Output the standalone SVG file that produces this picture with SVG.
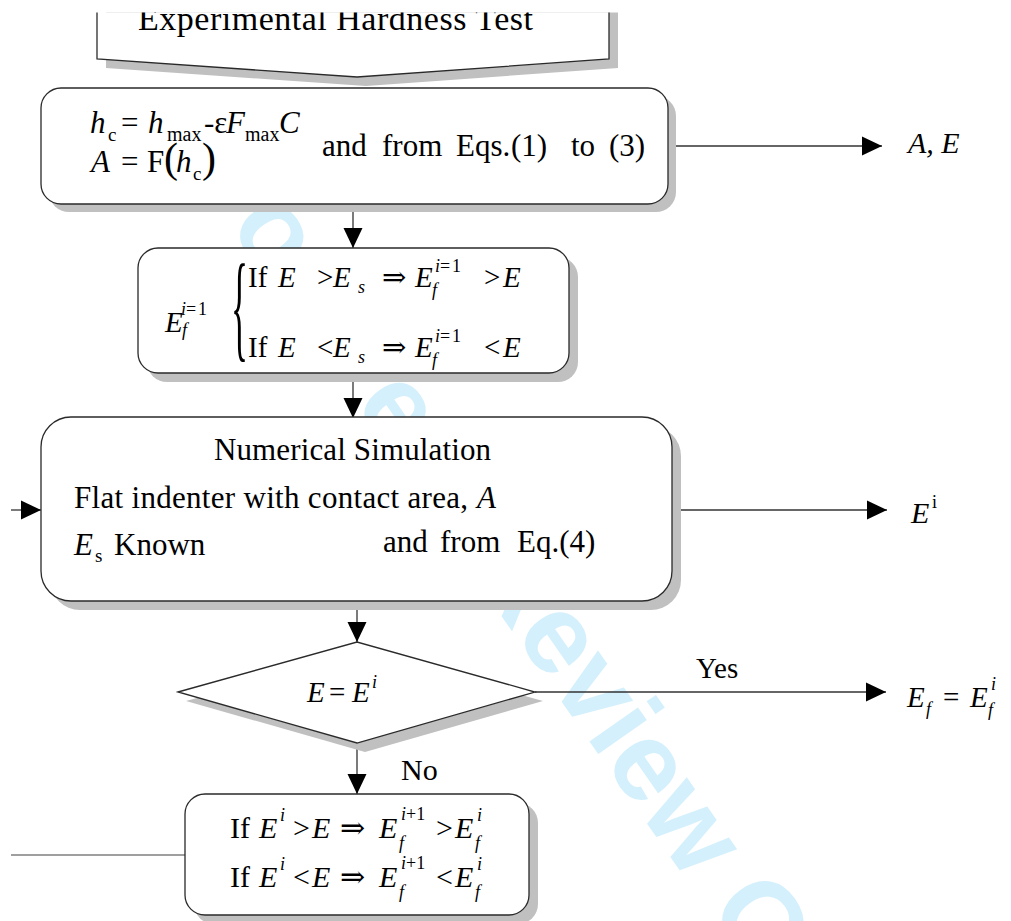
<svg xmlns="http://www.w3.org/2000/svg" width="1011" height="921" viewBox="0 0 1011 921">
<defs>
<style>
.t{font-family:'Liberation Serif','DejaVu Serif',serif;fill:#000;font-size:30px}
.i{font-style:italic}
.s{font-size:18px}
.b{font-size:30px}
.bs{font-size:18px}
.node{fill:#fff;stroke:#2a2a2a;stroke-width:1.3}
.sh{fill:#c0c0c0;stroke:none}
.conn{stroke:#333;stroke-width:1.3;fill:none}
.gray{stroke:#7f7f7f;stroke-width:1.6;fill:none}
.wm{font-family:'Liberation Sans',Arial,sans-serif;font-weight:bold;font-size:112px;fill:#d4f0fc}
</style>
<marker id="ah" viewBox="0 0 20 20" refX="20" refY="10" markerWidth="20" markerHeight="20" markerUnits="userSpaceOnUse" orient="auto">
<path d="M0,0.5 L20,10 L0,19.5 Z" fill="#000"/>
</marker>
<clipPath id="clipTop"><rect x="0" y="12.5" width="1011" height="909"/></clipPath>
</defs>
<rect x="0" y="0" width="1011" height="921" fill="#fff"/>

<g id="watermark">
<text class="wm" transform="translate(12,0) rotate(4,450,560) translate(150,189) rotate(51)">For Peer Review Only</text>
</g>

<g id="connectors">
<line class="conn" x1="676" y1="146" x2="882" y2="146" marker-end="url(#ah)"/>
<line class="conn" x1="353" y1="212" x2="353" y2="248" marker-end="url(#ah)"/>
<line class="conn" x1="353" y1="382" x2="353" y2="418" marker-end="url(#ah)"/>
<line class="conn" x1="11" y1="510" x2="41" y2="510" marker-end="url(#ah)"/>
<line class="conn" x1="681" y1="510" x2="887" y2="510" marker-end="url(#ah)"/>
<line class="conn" x1="357" y1="609" x2="357" y2="642" marker-end="url(#ah)"/>
<line class="conn" x1="535" y1="692" x2="886" y2="692" marker-end="url(#ah)"/>
<line class="conn" x1="357" y1="743" x2="357" y2="794" marker-end="url(#ah)"/>
<line class="gray" x1="11" y1="855" x2="185" y2="855"/>
<text class="t" x="696" y="678" style="font-size:29px">Yes</text>
<text class="t" x="401" y="780">No</text>
</g>

<g id="node1" clip-path="url(#clipTop)">
<path class="sh" d="M106,-10 L106,68 L366,86 L618,68 L618,-10 Z"/>
<path class="node" d="M97,-10 L97,59 L357,77 L609,59 L609,-10 Z"/>
<text class="t" x="138" y="30" style="font-size:34px" textLength="395">Experimental Hardness Test</text>
</g>

<g id="node2">
<rect class="sh" x="49" y="96" width="627" height="116" rx="20"/>
<rect class="node" x="41" y="88" width="627" height="116" rx="20"/>
<g class="t" style="font-size:31px">
<text y="133"><tspan class="i" x="90">h</tspan><tspan x="108" y="141" style="font-size:19px">c</tspan><tspan x="121" y="133">=</tspan><tspan class="i" x="148">h</tspan><tspan x="167" y="141" style="font-size:20px">max</tspan><tspan x="204" y="133">-ε</tspan><tspan class="i" x="226">F</tspan><tspan x="245" y="141" style="font-size:20px">max</tspan><tspan class="i" x="279" y="133">C</tspan></text>
<text y="172"><tspan class="i" x="91">A</tspan><tspan x="121">=</tspan><tspan x="147">F</tspan><tspan x="164" style="font-size:42px">(</tspan><tspan class="i" x="176">h</tspan><tspan x="193" y="180" style="font-size:19px">c</tspan><tspan x="202" y="172" style="font-size:42px">)</tspan></text>
<text y="156"><tspan x="322">and</tspan><tspan x="382">from</tspan><tspan x="456">Eqs.</tspan><tspan x="511">(1)</tspan><tspan x="571">to</tspan><tspan x="609">(3)</tspan></text>
</g>
</g>

<g id="out1">
<text class="t i" x="908" y="153">A, E</text>
</g>

<g id="node3">
<rect class="sh" x="147" y="257" width="431" height="125" rx="20"/>
<rect class="node" x="138" y="248" width="431" height="125" rx="20"/>
<g class="t" style="font-size:29px">
<text y="332"><tspan class="i" x="165">E</tspan><tspan class="i s" x="181" y="315">i</tspan><tspan class="s" x="186">=</tspan><tspan class="s" x="198">1</tspan><tspan class="i s" x="182" y="336">f</tspan></text>
<text transform="translate(231,346) scale(0.3,1)" style="font-size:118px">{</text>
<text y="287"><tspan x="248">If</tspan><tspan class="i" x="278">E</tspan><tspan x="317">&gt;</tspan><tspan class="i" x="333">E</tspan><tspan class="i s" x="358" y="293">s</tspan><tspan x="382" y="287">⇒</tspan><tspan class="i" x="415">E</tspan><tspan class="i s" x="435" y="272">i</tspan><tspan class="s" x="440">=</tspan><tspan class="s" x="452">1</tspan><tspan class="i s" x="432" y="296">f</tspan><tspan x="484" y="287">&gt;</tspan><tspan class="i" x="503">E</tspan></text>
<text y="357"><tspan x="248">If</tspan><tspan class="i" x="278">E</tspan><tspan x="317">&lt;</tspan><tspan class="i" x="333">E</tspan><tspan class="i s" x="358" y="363">s</tspan><tspan x="382" y="357">⇒</tspan><tspan class="i" x="415">E</tspan><tspan class="i s" x="435" y="342">i</tspan><tspan class="s" x="440">=</tspan><tspan class="s" x="452">1</tspan><tspan class="i s" x="432" y="366">f</tspan><tspan x="484" y="357">&lt;</tspan><tspan class="i" x="503">E</tspan></text>
</g>
</g>

<g id="node4">
<rect class="sh" x="50" y="426" width="631" height="184" rx="30"/>
<rect class="node" x="41" y="417" width="631" height="184" rx="30"/>
<g class="t" style="font-size:31px">
<text x="214" y="460" textLength="277">Numerical Simulation</text>
<text y="508"><tspan x="74" textLength="394">Flat indenter with contact area,</tspan><tspan class="i" x="477">A</tspan></text>
<text y="555"><tspan class="i" x="74">E</tspan><tspan x="95" y="562" style="font-size:19px">s</tspan><tspan x="114" y="555">Known</tspan></text>
<text y="552"><tspan x="383">and</tspan><tspan x="440">from</tspan><tspan x="517">Eq.(4)</tspan></text>
</g>
</g>

<g id="out2">
<text class="t" y="523"><tspan class="i" x="911">E</tspan><tspan class="s" x="932" y="508">i</tspan></text>
</g>

<g id="node5">
<polygon class="sh" points="186,701 365,651 543,701 365,752"/>
<polygon class="node" points="178,692 357,642 535,692 357,743"/>
<text class="t" y="702" style="font-size:29px"><tspan class="i" x="307">E</tspan><tspan x="329">=</tspan><tspan class="i" x="352">E</tspan><tspan class="i s" x="372" y="688">i</tspan></text>
</g>

<g id="out3">
<text class="t" y="707" style="font-size:29px"><tspan class="i" x="907">E</tspan><tspan class="i s" x="926" y="715">f</tspan><tspan x="943" y="707">=</tspan><tspan class="i" x="970">E</tspan><tspan class="i s" x="991" y="690">i</tspan><tspan class="i s" x="988" y="716">f</tspan></text>
</g>

<g id="node6">
<rect class="sh" x="194" y="803" width="344" height="121" rx="20"/>
<rect class="node" x="185" y="794" width="344" height="121" rx="20"/>
<g class="t b">
<text y="838"><tspan x="230">If</tspan><tspan class="i" x="259">E</tspan><tspan class="i bs" x="280" y="821">i</tspan><tspan x="293" y="838">&gt;</tspan><tspan class="i" x="312">E</tspan><tspan x="340">⇒</tspan><tspan class="i" x="379">E</tspan><tspan class="i bs" x="401" y="820">i</tspan><tspan class="bs" x="406">+1</tspan><tspan class="i bs" x="399" y="849">f</tspan><tspan x="436" y="838">&gt;</tspan><tspan class="i" x="455">E</tspan><tspan class="i bs" x="477" y="821">i</tspan><tspan class="i bs" x="475" y="849">f</tspan></text>
<text y="887"><tspan x="230">If</tspan><tspan class="i" x="259">E</tspan><tspan class="i bs" x="280" y="870">i</tspan><tspan x="293" y="887">&lt;</tspan><tspan class="i" x="312">E</tspan><tspan x="340">⇒</tspan><tspan class="i" x="379">E</tspan><tspan class="i bs" x="401" y="869">i</tspan><tspan class="bs" x="406">+1</tspan><tspan class="i bs" x="399" y="898">f</tspan><tspan x="436" y="887">&lt;</tspan><tspan class="i" x="455">E</tspan><tspan class="i bs" x="477" y="870">i</tspan><tspan class="i bs" x="475" y="898">f</tspan></text>
</g>
</g>
</svg>
